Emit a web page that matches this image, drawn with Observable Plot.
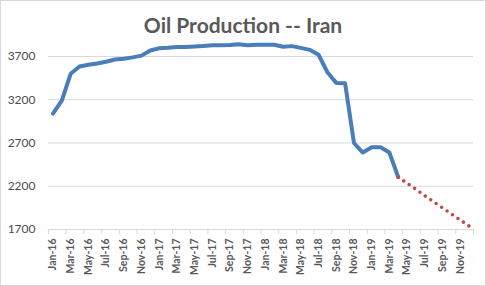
<!DOCTYPE html>
<html>
<head>
<meta charset="utf-8">
<script src="https://cdn.jsdelivr.net/npm/d3@7"></script>
<script src="https://cdn.jsdelivr.net/npm/@observablehq/plot@0.6"></script>
<style>
  html, body { margin: 0; padding: 0; background: #fff; }
  #chart { position: relative; width: 486px; height: 286px; padding-top: 40px; box-sizing: border-box; background: #fff; overflow: hidden; }
  #frame { position: absolute; left: 0; top: 0; width: 486px; height: 286px; box-sizing: border-box; border: 1px solid #d9d9d9; pointer-events: none; }
  #title { position: absolute; left: 0; width: 486px; top: 14px; text-align: center; font-family: Lato, "Open Sans", sans-serif; font-weight: bold; font-size: 21px; line-height: 21px; color: #595959; }
  svg { display: block; }
</style>
</head>
<body>
<div id="chart">
  <div id="title">Oil Production -- Iran</div>
  <div id="frame"></div>
</div>
<script>
const months = [
  "Jan-16","Feb-16","Mar-16","Apr-16","May-16","Jun-16","Jul-16","Aug-16","Sep-16","Oct-16","Nov-16","Dec-16",
  "Jan-17","Feb-17","Mar-17","Apr-17","May-17","Jun-17","Jul-17","Aug-17","Sep-17","Oct-17","Nov-17","Dec-17",
  "Jan-18","Feb-18","Mar-18","Apr-18","May-18","Jun-18","Jul-18","Aug-18","Sep-18","Oct-18","Nov-18","Dec-18",
  "Jan-19","Feb-19","Mar-19","Apr-19","May-19","Jun-19","Jul-19","Aug-19","Sep-19","Oct-19","Nov-19","Dec-19"
];
// Actual production, Jan-16 .. Apr-19
const actual = [
  3040, 3190, 3500, 3585, 3605, 3620, 3640, 3665, 3675, 3690, 3710, 3770,
  3795, 3800, 3810, 3810, 3815, 3822, 3830, 3830, 3834, 3842, 3830, 3835,
  3835, 3835, 3812, 3820, 3800, 3777, 3720, 3518, 3395, 3390, 2700, 2590,
  2650, 2650, 2590, 2305
];
// Projection, Apr-19 .. Dec-19
const projectionStart = "Apr-19";
const projection = [2305, 2235, 2165, 2090, 2020, 1950, 1880, 1810, 1740];
const yTicks = [1700, 2200, 2700, 3200, 3700];

const actualData = actual.map((v, i) => ({i, v}));
const p0 = months.indexOf(projectionStart);
const projData = projection.map((v, k) => ({i: p0 + k, v}));
const labelIdx = months.map((m, i) => i).filter(i => i % 2 === 0);
const bounds = labelIdx.map(i => i - 0.5).concat([months.length - 0.5]);

const plot = Plot.plot({
  width: 486,
  height: 246,
  marginLeft: 48,
  marginRight: 13,
  marginTop: 16,
  marginBottom: 57,
  style: {fontFamily: "Lato, 'Open Sans', sans-serif", color: "#595959", background: "transparent", overflow: "visible"},
  x: {type: "linear", domain: [-0.5, months.length - 0.5]},
  y: {domain: [yTicks[0], yTicks[yTicks.length - 1]]},
  marks: [
    Plot.gridY(yTicks, {stroke: "#d9d9d9", strokeOpacity: 1, strokeWidth: 1}),
    Plot.axisY(yTicks, {tickSize: 0, tickPadding: 13, fontSize: 12, fill: "#4d4d4d", tickFormat: d => String(d), label: null}),
    Plot.axisX(bounds, {tickSize: 5, stroke: "#d9d9d9", strokeOpacity: 1, tickFormat: () => "", label: null}),
    Plot.axisX(labelIdx, {tickSize: 0, tickPadding: 9, tickRotate: -90, fontSize: 10.5, fontWeight: "bold", fill: "#595959", tickFormat: i => months[i], label: null}),
    Plot.line(actualData, {x: "i", y: "v", stroke: "#4A7EBB", strokeWidth: 4, strokeLinejoin: "round", strokeLinecap: "round"}),
    Plot.line(projData, {x: "i", y: "v", stroke: "#BE4B48", strokeWidth: 3.6, strokeDasharray: "0 6.6", strokeLinecap: "round"})
  ]
});
document.getElementById("chart").appendChild(plot);
</script>
</body>
</html>
